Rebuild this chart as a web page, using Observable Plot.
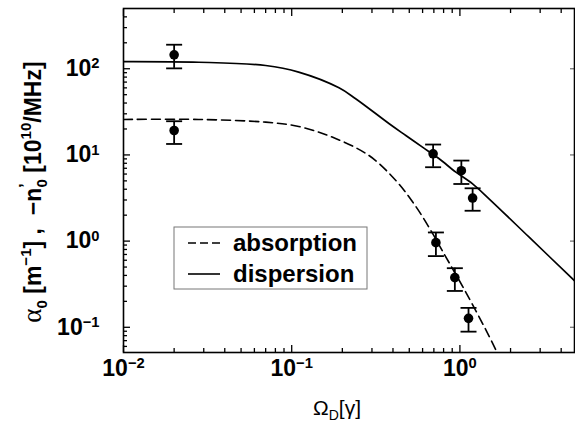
<!DOCTYPE html>
<html><head><meta charset="utf-8">
<script src="https://cdn.jsdelivr.net/npm/d3@7"></script>
<script src="https://cdn.jsdelivr.net/npm/@observablehq/plot@0.6"></script>
<style>body{margin:0;background:#fff}</style>
</head><body><div id="chart"></div>
<script>
// measured points (dispersion: solid, absorption: dashed)
const dispX  = [0.02, 0.693, 1.02, 1.19];
const dispY  = [145, 10.3, 6.56, 3.16];
const dispHi = [190, 13.2, 8.6, 4.1];
const dispLo = [101, 7.2, 4.6, 2.25];
const absX   = [0.02, 0.72, 0.933, 1.125];
const absY   = [19.2, 0.96, 0.377, 0.127];
const absHi  = [24.6, 1.26, 0.485, 0.168];
const absLo  = [13.4, 0.67, 0.264, 0.089];
// theory curves
const dispCurveX = [0.01, 0.028, 0.070, 0.110, 0.191, 0.240, 0.380, 0.477, 0.599, 0.753, 0.946, 1.19, 1.49, 2.58, 4.79];
const dispCurveY = [121, 119, 109, 91.4, 60.1, 44.9, 23.0, 16.8, 12.3, 9.02, 6.31, 4.62, 3.10, 1.11, 0.348];
const absCurveX  = [0.01, 0.028, 0.070, 0.110, 0.174, 0.288, 0.416, 0.547, 0.689, 0.791, 1.087, 1.434, 1.66];
const absCurveY  = [25.8, 25.8, 24.0, 21.4, 16.1, 9.85, 5.05, 2.52, 1.22, 0.757, 0.253, 0.0916, 0.0515];
// ticks
const xMajor = [0.01, 0.1, 1];
const xExp   = ["\u22122", "\u22121", "0"];
const xMinor = [0.02,0.03,0.04,0.05,0.06,0.07,0.08,0.09,0.2,0.3,0.4,0.5,0.6,0.7,0.8,0.9,2,3,4];
const yMajor = [0.1, 1, 10, 100];
const yExp   = ["\u22121", "0", "1", "2"];
const yMinor = [0.06,0.07,0.08,0.09,0.2,0.3,0.4,0.5,0.6,0.7,0.8,0.9,2,3,4,5,6,7,8,9,20,30,40,50,60,70,80,90,200,300,400];
const legendLabels = ["absorption", "dispersion"];

const fontFam = "'Liberation Sans', Arial, Helvetica, sans-serif";
const toPts = (X, Y, L, H) => X.map((x, i) => ({x, y: Y[i], lo: L[i], hi: H[i]}));
const dispPts = toPts(dispX, dispY, dispLo, dispHi);
const absPts = toPts(absX, absY, absLo, absHi);
const allPts = dispPts.concat(absPts);
const dispCurve = dispCurveX.map((x, i) => ({x, y: dispCurveY[i]}));
const absCurve = absCurveX.map((x, i) => ({x, y: absCurveY[i]}));
const capSym = {draw(ctx) { ctx.moveTo(-8, 0); ctx.lineTo(8, 0); }};

const tickAxis = (axis, anchor, ticks, size, color = "#000") => axis({
  anchor, ticks, tickSize: -size, tickFormat: () => "", label: null, stroke: color, strokeWidth: 1.3
});

const plot = Plot.plot({
  width: 575, height: 423,
  marginLeft: 123, marginRight: 1, marginTop: 8, marginBottom: 71,
  style: {fontFamily: fontFam, background: "#fff", color: "#000"},
  x: {type: "log", domain: [0.01, 4.8]},
  y: {type: "log", domain: [0.051, 500]},
  marks: [
    tickAxis(Plot.axisX, "bottom", xMajor, 7),
    tickAxis(Plot.axisX, "bottom", xMinor, 4),
    tickAxis(Plot.axisX, "top", xMajor, 7),
    tickAxis(Plot.axisX, "top", xMinor, 4),
    tickAxis(Plot.axisY, "left", yMajor, 7),
    tickAxis(Plot.axisY, "left", yMinor, 4),
    tickAxis(Plot.axisY, "right", yMajor, 5, "#777"),
    Plot.axisX({anchor: "bottom", ticks: xMajor, tickSize: 0, tickPadding: 7, label: null,
      tickFormat: d => "10^" + xExp[xMajor.indexOf(d)], fontSize: 23, fontWeight: "bold"}),
    Plot.axisY({anchor: "left", ticks: yMajor, tickSize: 0, tickPadding: 24, label: null,
      tickFormat: d => "10^" + yExp[yMajor.indexOf(d)], fontSize: 23, fontWeight: "bold"}),
    Plot.frame({stroke: "#000", strokeWidth: 1.6}),
    Plot.line(dispCurve, {x: "x", y: "y", stroke: "#000", strokeWidth: 1.7, curve: "catmull-rom", clip: true}),
    Plot.line(absCurve, {x: "x", y: "y", stroke: "#000", strokeWidth: 1.6, strokeDasharray: "9,5", curve: "catmull-rom", clip: true}),
    Plot.ruleX(allPts, {x: "x", y1: "lo", y2: "hi", stroke: "#000", strokeWidth: 1.8}),
    Plot.dot(allPts, {x: "x", y: "hi", symbol: capSym, stroke: "#000", strokeWidth: 1.8, fill: "none"}),
    Plot.dot(allPts, {x: "x", y: "lo", symbol: capSym, stroke: "#000", strokeWidth: 1.8, fill: "none"}),
    Plot.dot(allPts, {x: "x", y: "y", r: 4.8, fill: "#000", stroke: "none"})
  ]
});

const svg = d3.select(plot);
// superscripts in tick labels
svg.selectAll("text").each(function() {
  const t = this.textContent;
  if (t.includes("^")) {
    const [b, e] = t.split("^");
    const s = d3.select(this);
    s.text(null);
    s.append("tspan").text(b);
    s.append("tspan").attr("dy", "-0.52em").attr("font-size", "0.64em").text(e);
  }
});

// rich text helper
function rich(sel, segs) {
  let prev = 0;
  for (const g of segs) {
    const shift = g.shift || 0;
    const ts = sel.append("tspan").text(g.t);
    if (shift !== prev) ts.attr("dy", (prev - shift) + "px");
    if (g.size) ts.attr("font-size", g.size);
    if (g.family) ts.attr("font-family", g.family);
    if (g.weight) ts.attr("font-weight", g.weight);
    if (g.dx) ts.attr("dx", g.dx);
    prev = shift;
  }
}

// y label
const yl = svg.append("text")
  .attr("transform", "translate(41,192) rotate(-90)")
  .attr("text-anchor", "middle").attr("font-family", fontFam)
  .attr("font-size", 23).attr("font-weight", "bold").attr("fill", "#000");
rich(yl, [
  {t: "\u03b1", family: "'Liberation Serif', 'DejaVu Serif', serif", weight: "normal", size: 27},
  {t: "0", shift: -6, size: 15},
  {t: " [m"},
  {t: "\u22121", shift: 10, size: 15},
  {t: "] ,  \u2212n"},
  {t: "\u2019", shift: 10, size: 16},
  {t: "0", shift: -6, size: 15, dx: -4},
  {t: " [10"},
  {t: "10", shift: 10, size: 15},
  {t: "/MHz]"}
]);

// x label
const xl = svg.append("text")
  .attr("x", 313).attr("y", 415).attr("text-anchor", "start").attr("font-family", fontFam)
  .attr("font-size", 21).attr("fill", "#000");
rich(xl, [
  {t: "\u03a9"},
  {t: "D", shift: -5, size: 14},
  {t: "[\u03b3]"}
]);

// legend
const lg = svg.append("g");
lg.append("rect").attr("x", 174).attr("y", 227).attr("width", 193).attr("height", 62)
  .attr("fill", "#fff").attr("stroke", "#777").attr("stroke-width", 1);
const rowsY = [243, 274];
legendLabels.forEach((lab, i) => {
  lg.append("line").attr("x1", 188).attr("x2", 220).attr("y1", rowsY[i]).attr("y2", rowsY[i])
    .attr("stroke", "#000").attr("stroke-width", 1.6).attr("stroke-dasharray", i === 0 ? "8,4" : null);
  lg.append("text").attr("x", 233).attr("y", rowsY[i] + 8).attr("text-anchor", "start")
    .attr("font-family", fontFam).attr("font-size", 24).attr("font-weight", "bold")
    .attr("fill", "#000").text(lab);
});

document.getElementById("chart").appendChild(plot);
</script>
</body></html>
